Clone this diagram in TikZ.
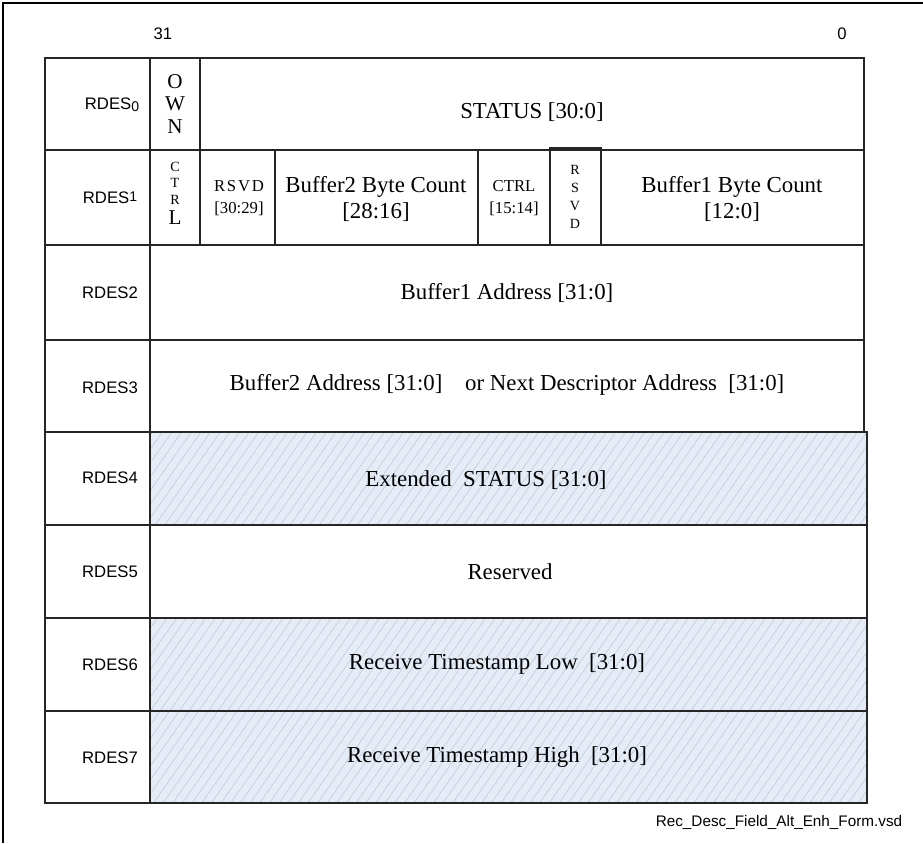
\documentclass[tikz,border=0pt]{standalone}
\usepackage{fontspec}
\setmainfont{Liberation Serif}
\setsansfont{Liberation Sans}
\usetikzlibrary{patterns.meta}
\definecolor{hatchbg}{HTML}{E6ECF6}
\definecolor{hatchln}{HTML}{C3CEE0}

\begin{document}
\begin{tikzpicture}[x=0.02cm,y=-0.02cm,
  grid/.style={draw=black!85,line width=0.8pt},
  hatched/.style={grid,preaction={fill=hatchbg},
    pattern={Lines[angle=55,distance=4.5pt,line width=0.4pt]},pattern color=hatchln},
  rowlbl/.style={font=\sffamily\fontsize{9.5}{11}\selectfont},
  field/.style={font=\fontsize{13}{14.5}\selectfont,align=center},
  smallfield/.style={font=\fontsize{9.5}{12.5}\selectfont,align=center}]
  \useasboundingbox (0,0) rectangle (923,843);
  \draw[line width=0.8pt] (3,843) -- (3,3) -- (923,3);
  \node[rowlbl] (msb) at (163,34) {31};
  \node[rowlbl] (lsb) at (842,34) {0};
  % label column
  \foreach \ya/\yb in {58/150,150/245,245/340,340/432,432/525,525/618,618/711,711/803}
    \draw[grid] (45,\ya) rectangle (150,\yb);
  \node[rowlbl] (l0) at (112,105) {RDES\raisebox{-1pt}{\fontsize{8}{8}\selectfont 0}};
  \node[rowlbl] (l1) at (110,198) {RDES\raisebox{1pt}{\fontsize{8}{8}\selectfont 1}};
  \foreach \i/\y in {2/293,3/388,4/478,5/572,6/665,7/758}
    \node[rowlbl] (l\i) at (110,\y) {RDES\i};
  % RDES0
  \draw[grid] (150,58) rectangle (200,150);
  \draw[grid] (200,58) rectangle (864,150);
  \node[font=\fontsize{12}{12.8}\selectfont,align=center] (own) at (175,104) {O\\W\\N};
  \node[field] (status) at (532,112) {STATUS [30:0]};
  % RDES1
  \draw[grid] (150,150) rectangle (200,245);
  \draw[grid] (200,150) rectangle (275,245);
  \draw[grid] (275,150) rectangle (478,245);
  \draw[grid] (478,150) rectangle (550,245);
  \draw[grid] (550,148) rectangle (601,245);
  \draw[grid] (601,150) rectangle (864,245);
  \node[font=\fontsize{8}{9.6}\selectfont,align=center] (ctrla) at (175,193)
    {C\\T\\R\\[1.5pt]{\fontsize{12}{12}\selectfont L}};
  \node[smallfield] (rsvda) at (239,198) {R\kern1pt S\kern1pt V\kern1pt D\\{}[30:29]};
  \node[field] (buf2cnt) at (376,199) {Buffer2 Byte Count\\{}[28:16]};
  \node[smallfield] (ctrlb) at (514,198) {CTRL\\{}[15:14]};
  \node[font=\fontsize{8}{10.3}\selectfont,align=center] (rsvdb) at (575,197) {R\\S\\V\\D};
  \node[field] (buf1cnt) at (732,199) {Buffer1 Byte Count\\{}[12:0]};
  % RDES2, RDES3
  \draw[grid] (150,245) rectangle (864,340);
  \node[field] (buf1addr) at (507,293) {Buffer1 Address [31:0]};
  \draw[grid] (150,340) rectangle (864,432);
  \node[field] (buf2addr) at (507,385) {Buffer2 Address [31:0]\quad or Next Descriptor Address~~[31:0]};
  % RDES4 - RDES7
  \draw[hatched] (150,432) rectangle (867,525);
  \node[field] (extstat) at (486,480) {Extended~~STATUS [31:0]};
  \draw[grid] (150,525) rectangle (867,618);
  \node[field] (resv) at (510,572) {Reserved};
  \draw[hatched] (150,618) rectangle (867,711);
  \node[field] (tslow) at (497,664) {Receive Timestamp Low~~[31:0]};
  \draw[hatched] (150,711) rectangle (867,803);
  \node[field] (tshigh) at (497,757) {Receive Timestamp High~~[31:0]};
  \node[font=\sffamily\fontsize{8.7}{10}\selectfont] (fname) at (779,822) {Rec\_Desc\_Field\_Alt\_Enh\_Form.vsd};
\end{tikzpicture}
\end{document}
